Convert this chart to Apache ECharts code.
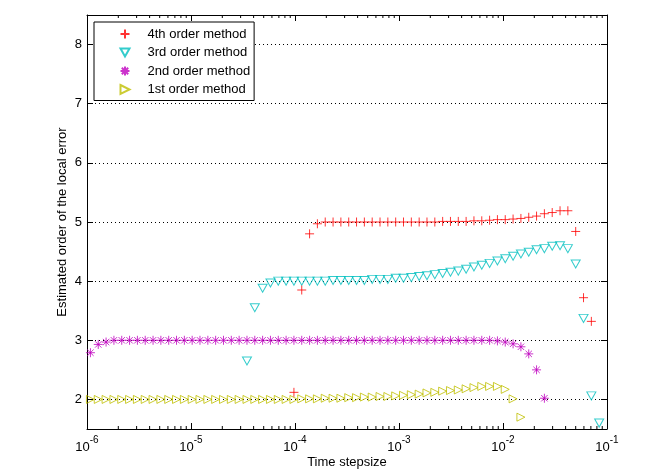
<!DOCTYPE html>
<html>
<head>
<meta charset="utf-8">
<script src="https://cdn.jsdelivr.net/npm/echarts@6/dist/echarts.min.js"></script>
<style>
  html, body { margin: 0; padding: 0; background: #fff; }
  #main { width: 671px; height: 472px; }
</style>
</head>
<body>
<div id="main"></div>
<script>
// step sizes, largest first (each one is 2^(-1/4) times the previous)
var stepsize = [
    0.08409, 0.07071, 0.05946, 0.05, 0.04204, 0.03536, 0.02973, 0.025,
    0.02102, 0.01768, 0.01487, 0.0125, 0.01051, 0.008839, 0.007433, 0.00625,
    0.005256, 0.004419, 0.003716, 0.003125, 0.002628, 0.00221, 0.001858, 0.001563,
    0.001314, 0.001105, 0.0009291, 0.0007813, 0.000657, 0.0005524, 0.0004645, 0.0003906,
    0.0003285, 0.0002762, 0.0002323, 0.0001953, 0.0001642, 0.0001381, 0.0001161, 0.00009766,
    0.00008212, 0.00006905, 0.00005807, 0.00004883, 0.00004106, 0.00003453, 0.00002903, 0.00002441,
    0.00002053, 0.00001726, 0.00001452, 0.0000122, 0.00001026, 0.000008631, 0.000007258, 0.000006104,
    0.000005132, 0.000004316, 0.000003629, 0.000003052, 0.000002566, 0.000002158, 0.000001815, 0.000001526,
    0.000001283, 0.000001079
];

// estimated orders; each list starts at stepsize[first]
var order4First = 1;
var order4 = [
    3.32, 3.72, 4.84, 5.19, 5.19, 5.16, 5.14, 5.10, 5.08, 5.06,
    5.05, 5.04, 5.04, 5.03, 5.02, 5.02, 5.01, 5.01, 5.01, 5.01,
    5.00, 5.00, 5.00, 5.00, 5.00, 5.00, 5.00, 5.00, 5.00, 5.00,
    5.00, 5.00, 5.00, 5.00, 5.00, 4.97, 4.80, 3.85, 2.12
];

var order3First = 0;
var order3 = [
    1.60, 2.06, 3.37, 4.29, 4.55, 4.60, 4.59, 4.55, 4.53, 4.49,
    4.46, 4.42, 4.38, 4.34, 4.30, 4.27, 4.24, 4.20, 4.17, 4.15,
    4.13, 4.11, 4.09, 4.08, 4.06, 4.05, 4.05, 4.03, 4.03, 4.03,
    4.01, 4.01, 4.01, 4.01, 4.01, 4.00, 4.00, 4.00, 4.00, 4.00,
    4.00, 4.00, 3.97, 3.88, 3.55, 2.65
];

var order2First = 7;
var order2 = [
    2.02, 2.50, 2.77, 2.89, 2.94, 2.97, 2.99, 3.00, 3.00, 3.00,
    3.00, 3.00, 3.00, 3.00, 3.00, 3.00, 3.00, 3.00, 3.00, 3.00,
    3.00, 3.00, 3.00, 3.00, 3.00, 3.00, 3.00, 3.00, 3.00, 3.00,
    3.00, 3.00, 3.00, 3.00, 3.00, 3.00, 3.00, 3.00, 3.00, 3.00,
    3.00, 3.00, 3.00, 3.00, 3.00, 3.00, 3.00, 3.00, 3.00, 3.00,
    3.00, 3.00, 3.00, 3.00, 3.00, 3.00, 2.97, 2.93, 2.79
];

var order1First = 10;
var order1 = [
    1.70, 2.01, 2.17, 2.22, 2.22, 2.22, 2.20, 2.18, 2.16, 2.15,
    2.14, 2.12, 2.11, 2.09, 2.08, 2.07, 2.06, 2.05, 2.05, 2.04,
    2.04, 2.03, 2.03, 2.02, 2.02, 2.02, 2.01, 2.01, 2.01, 2.00,
    2.00, 2.00, 2.00, 2.00, 2.00, 2.00, 2.00, 2.00, 2.00, 2.00,
    2.00, 2.00, 2.00, 2.00, 2.00, 2.00, 2.00, 2.00, 2.00, 2.00,
    2.00, 2.00, 2.00, 2.00, 2.00, 2.00
];

var seriesNames = ['4th order method', '3rd order method', '2nd order method', '1st order method'];
var yTicks = [2, 3, 4, 5, 6, 7, 8];

var font = 'Liberation Sans, Arial, Helvetica, sans-serif';

function pairs(first, values) {
    var res = [];
    for (var i = 0; i < values.length; i++) {
        res.push([stepsize[first + i], values[i]]);
    }
    return res;
}

// minor tick positions on the log axis (2..9 in every decade)
var minorTicks = [];
for (var d = -6; d <= -2; d++) {
    for (var k = 2; k <= 9; k++) {
        minorTicks.push([k * Math.pow(10, d), 2]);
    }
}

// matlab-like markers, drawn as outlines
var plusPath = 'path://M4.5,0V9M0,4.5H9';
var starPath = 'path://M4.5,0V9M0,4.5H9M1.3,1.3L7.7,7.7M1.3,7.7L7.7,1.3';
var downTriPath = 'path://M0,0H9L4.5,8Z';
var rightTriPath = 'path://M0,0L8,4L0,8Z';

var myChart = echarts.init(document.getElementById('main'), null, { renderer: 'canvas' });

var xAxisBase = {
    type: 'log',
    logBase: 10,
    min: 1e-6,
    max: 1e-1,
    axisLine: { show: true, lineStyle: { color: '#000', width: 1 } },
    axisTick: { show: true, inside: true, length: 6, lineStyle: { color: '#000' } },
    splitLine: { show: false }
};

var yAxisBase = {
    type: 'value',
    min: 1.5,
    max: 8.5,
    splitNumber: 7,
    axisLine: { show: true, lineStyle: { color: '#000', width: 1 } },
    axisTick: { show: true, inside: true, length: 6, lineStyle: { color: '#000' } }
};

var option = {
    animation: false,
    backgroundColor: '#fff',
    textStyle: { fontFamily: font },
    grid: { left: 87, right: 64, top: 15, bottom: 43, containLabel: false, outerBoundsMode: 'none' },
    legend: {
        data: seriesNames,
        orient: 'vertical',
        left: 94,
        top: 22,
        padding: [4, 4, 3, 24],
        itemWidth: 9,
        itemHeight: 9,
        itemGap: 2.5,
        backgroundColor: '#fff',
        borderColor: '#000',
        borderWidth: 1,
        borderRadius: 0,
        textStyle: { fontFamily: font, fontSize: 13, color: '#000', lineHeight: 16, padding: [0, 0, 0, 13] }
    },
    xAxis: [
        Object.assign({}, xAxisBase, {
            position: 'bottom',
            name: 'Time stepsize',
            nameLocation: 'middle',
            nameGap: 27,
            nameMoveOverlap: false,
            nameTextStyle: { fontFamily: font, fontSize: 13, color: '#000' },
            axisLabel: {
                margin: 8,
                color: '#000',
                formatter: function (v) {
                    return '{b|10}{s|' + Math.round(Math.log10(v)) + '}';
                },
                rich: {
                    b: { fontFamily: font, fontSize: 13, lineHeight: 14, padding: [6, 0, 0, 0], color: '#000' },
                    s: { fontFamily: font, fontSize: 10, lineHeight: 10, padding: [1, 0, 9, 0], color: '#000' }
                }
            }
        }),
        Object.assign({}, xAxisBase, {
            position: 'top',
            axisLabel: { show: false }
        })
    ],
    yAxis: [
        Object.assign({}, yAxisBase, {
            position: 'left',
            name: 'Estimated order of the local error',
            nameLocation: 'middle',
            nameGap: 18,
            nameMoveOverlap: false,
            nameTextStyle: { fontFamily: font, fontSize: 13, color: '#000' },
            axisLabel: {
                margin: 5,
                color: '#000',
                fontFamily: font,
                fontSize: 13,
                formatter: function (v) {
                    return yTicks.indexOf(Math.round(v * 1000) / 1000) >= 0 ? String(v) : '';
                }
            },
            splitLine: { show: true, lineStyle: { color: '#000', width: 1, type: [1, 3] } }
        }),
        Object.assign({}, yAxisBase, {
            position: 'right',
            axisLabel: { show: false },
            splitLine: { show: false }
        })
    ],
    series: [
        {
            name: seriesNames[0],
            type: 'scatter',
            symbol: plusPath,
            symbolSize: 9,
            itemStyle: { color: 'none', borderColor: '#ff0000', borderWidth: 1 },
            data: pairs(order4First, order4),
            z: 5
        },
        {
            name: seriesNames[1],
            type: 'scatter',
            symbol: downTriPath,
            symbolSize: [9, 8],
            itemStyle: { color: 'none', borderColor: '#00bfbf', borderWidth: 1 },
            data: pairs(order3First, order3),
            z: 4
        },
        {
            name: seriesNames[2],
            type: 'scatter',
            symbol: starPath,
            symbolSize: 9,
            itemStyle: { color: 'none', borderColor: '#bf00bf', borderWidth: 1 },
            data: pairs(order2First, order2),
            z: 3
        },
        {
            name: seriesNames[3],
            type: 'scatter',
            symbol: rightTriPath,
            symbolSize: [8, 8],
            itemStyle: { color: 'none', borderColor: '#bfbf00', borderWidth: 1 },
            data: pairs(order1First, order1),
            z: 2
        },
        {
            name: 'minor ticks',
            type: 'custom',
            silent: true,
            data: minorTicks,
            renderItem: function (params, api) {
                var b = api.coord([api.value(0), 1.5]);
                var t = api.coord([api.value(0), 8.5]);
                return {
                    type: 'group',
                    children: [
                        { type: 'line', shape: { x1: b[0], y1: b[1], x2: b[0], y2: b[1] - 3 }, style: { stroke: '#000', lineWidth: 1 } },
                        { type: 'line', shape: { x1: t[0], y1: t[1], x2: t[0], y2: t[1] + 3 }, style: { stroke: '#000', lineWidth: 1 } }
                    ]
                };
            },
            z: 1
        }
    ]
};

myChart.setOption(option);
</script>
</body>
</html>
